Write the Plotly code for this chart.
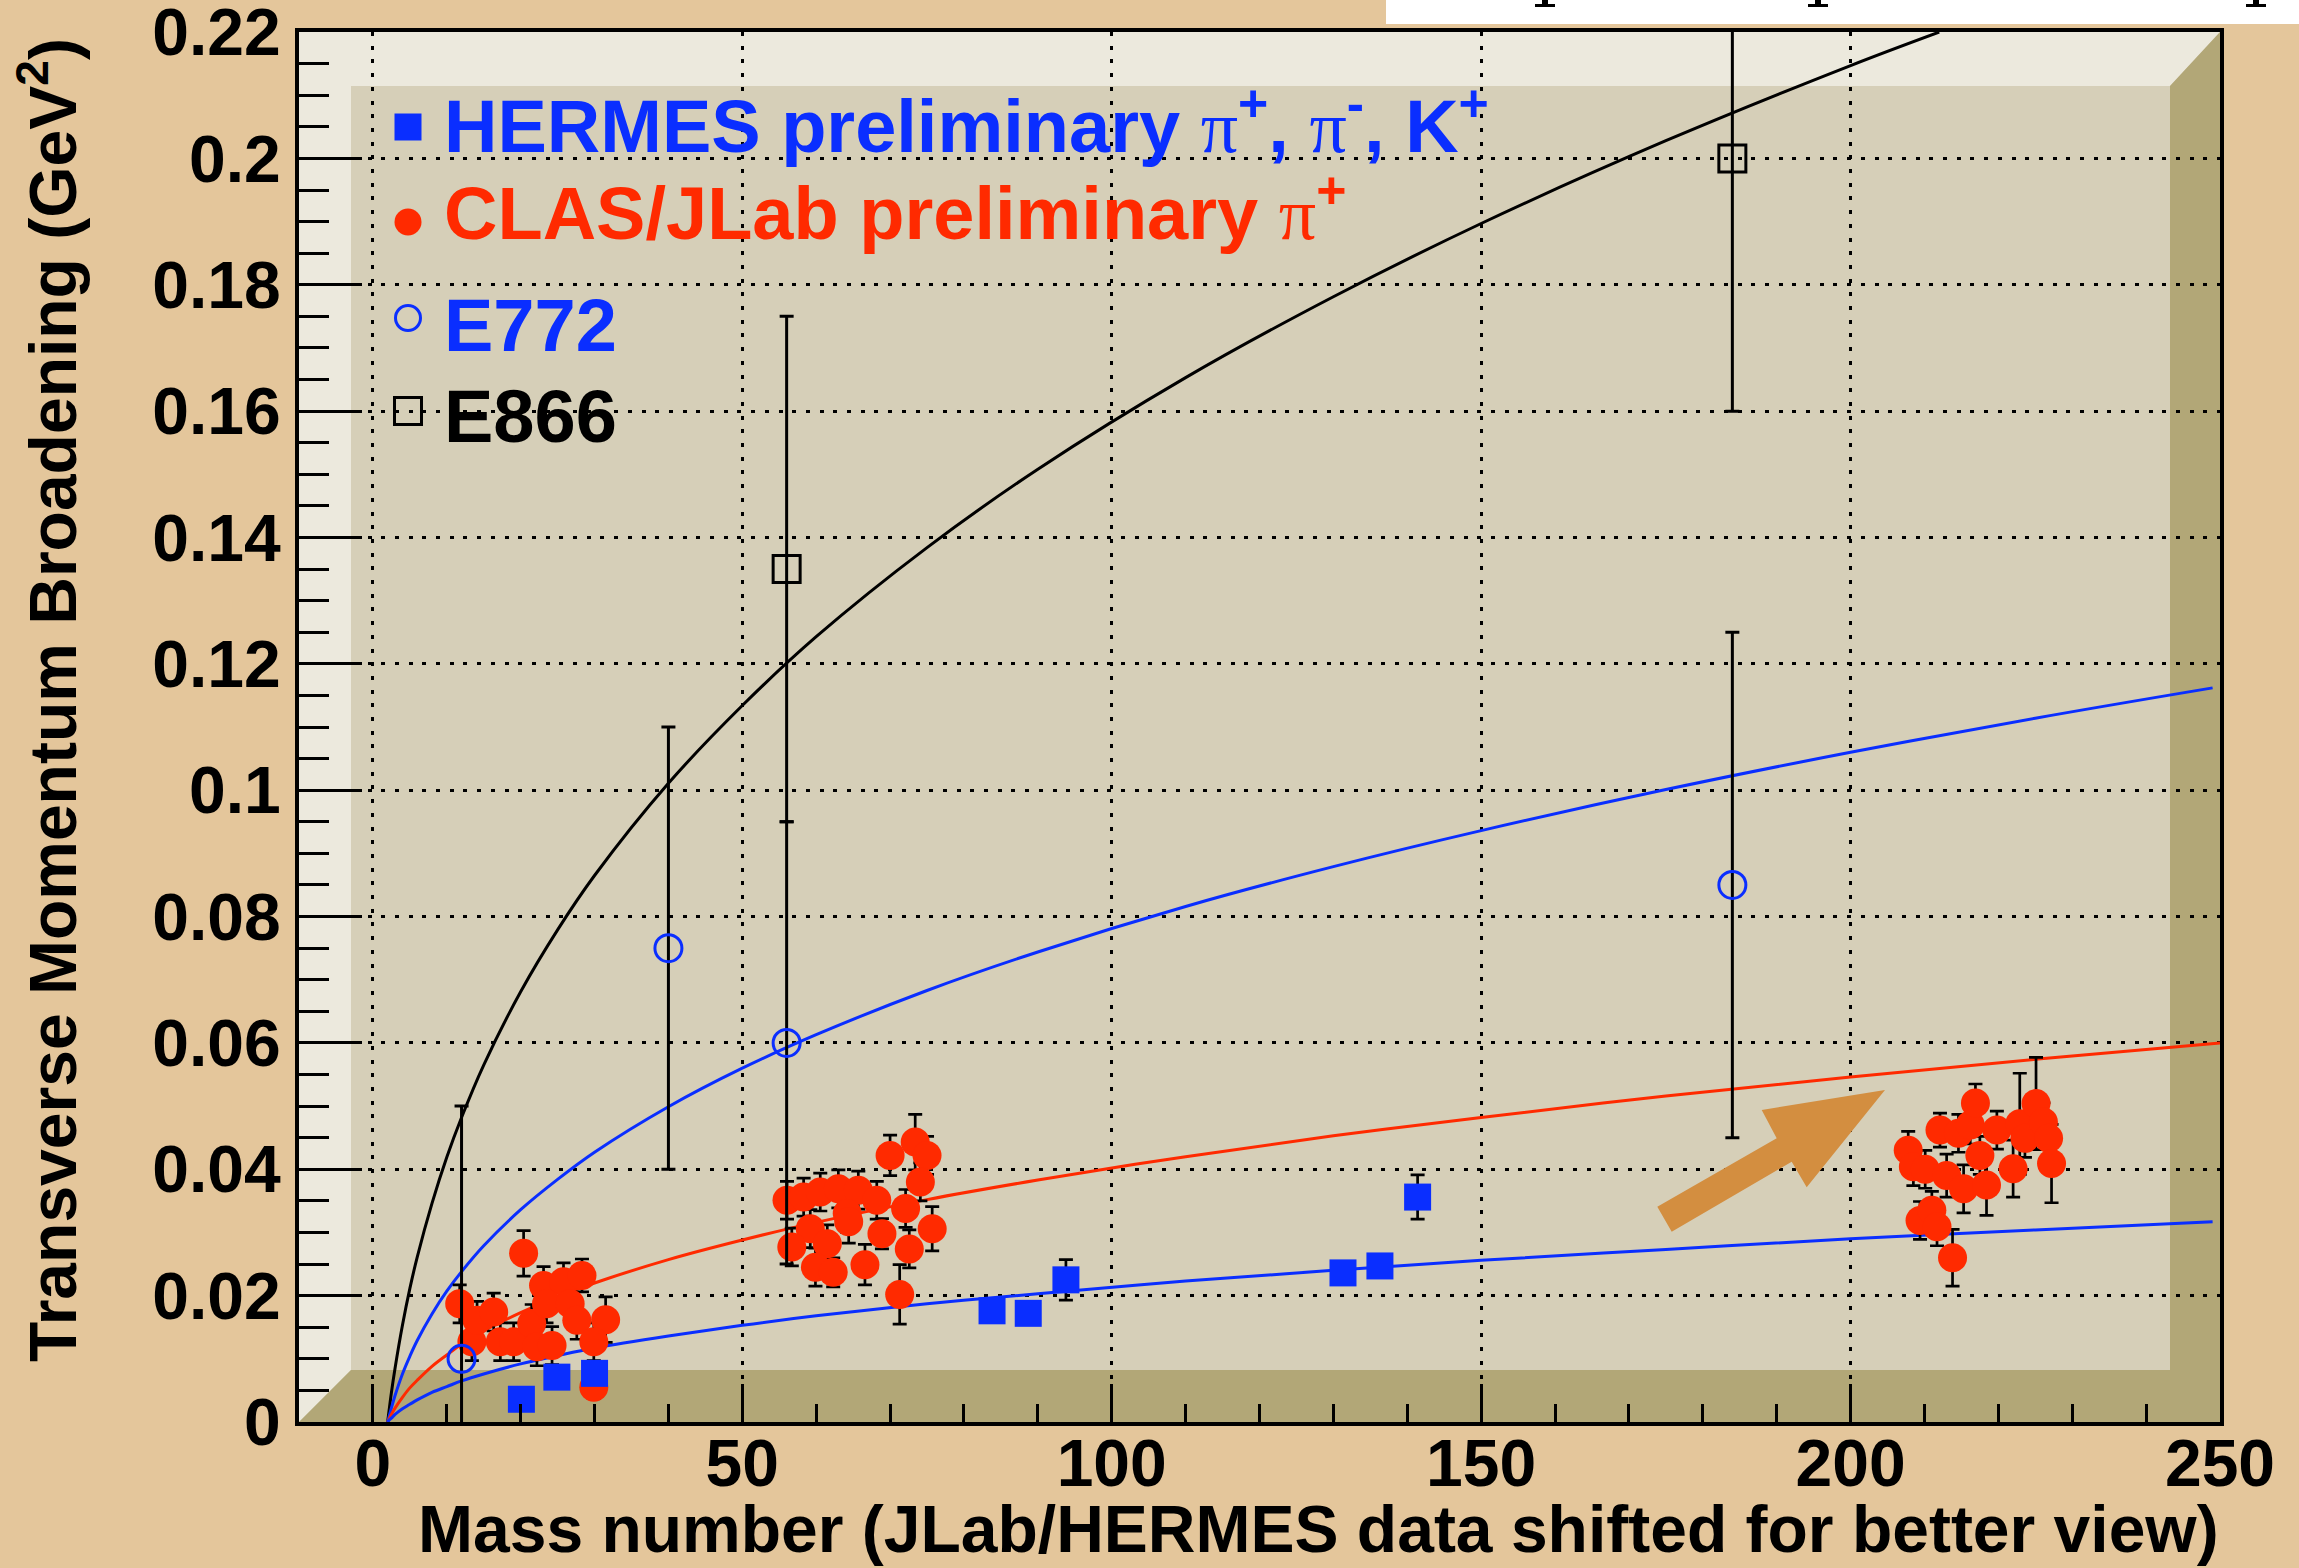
import plotly.graph_objects as go

# ---------------- data ----------------
# fitted curves (mass number A -> broadening)
black_A = [2, 2.2, 2.5, 3, 4, 5, 6, 8, 10, 12, 15, 20, 25, 30, 40, 50, 60, 75, 90, 110, 130, 150, 175, 200, 212]
black_val = [0, .0019, .0046, .0085, .0153, .0211, .0261, .0346, .0419, .0482, .0565, .0681, .0779, .0865,
             .1011, .1134, .1243, .1384, .1508, .1653, .1781, .1897, .2028, .2147, .2200]

fit_A = [2, 2.2, 2.5, 3, 4, 5, 6, 8, 10, 12, 15, 20, 25, 30, 40, 50, 60, 75, 90, 110, 130, 150, 175, 200, 225, 249]
blue_hi_val = [0, .0009, .0022, .0042, .0076, .0104, .0129, .0171, .0207, .0238, .0279, .0336, .0384, .0427,
               .0499, .0560, .0613, .0683, .0744, .0816, .0879, .0936, .1001, .1060, .1114, .1162]
blue_lo_val = [0, .0003, .0006, .0012, .0021, .0028, .0035, .0047, .0056, .0065, .0076, .0092, .0105, .0117,
               .0136, .0153, .0168, .0187, .0203, .0223, .0240, .0256, .0273, .0290, .0304, .0317]

red_A = [2, 2.2, 2.5, 3, 4, 5, 6, 8, 10, 12, 15, 20, 25, 30, 40, 50, 60, 75, 90, 110, 130, 150, 175, 200, 225, 250]
red_val = [0, .0005, .0012, .0022, .0039, .0054, .0066, .0088, .0106, .0123, .0144, .0173, .0198, .0220,
           .0257, .0288, .0316, .0352, .0383, .0420, .0453, .0482, .0516, .0546, .0574, .0600]

# CLAS/JLab preliminary pi+
clas_A = [20.4, 11.75, 13.4, 14.1, 16.35, 17.25, 19.05, 21.5, 22.2, 24.25, 23.1, 25.8, 28.3, 23.5, 26.7, 27.6,
          31.5, 29.9, 29.9,
          56.05, 58.3, 60.55, 63.0, 65.7, 68.2, 64.2, 64.4, 59.2, 56.7, 61.5, 59.9, 62.3, 66.6, 68.9, 70.0,
          73.4, 75.0, 74.1, 72.1, 75.7, 72.6, 71.3,
          207.8, 208.5, 210.1, 212.1, 214.6, 216.2, 216.9, 213.0, 215.3, 217.5, 218.4, 219.8, 222.0, 222.9,
          223.6, 225.1, 226.1, 226.8, 227.2, 209.4, 211.0, 211.7, 213.8]
clas_val = [0.0267, 0.0187, 0.0127, 0.0161, 0.0174, 0.0127, 0.0127, 0.0156, 0.0119, 0.0121, 0.0216, 0.0222,
            0.0232, 0.0187, 0.0187, 0.0161, 0.0162, 0.0127, 0.0055,
            0.0351, 0.0356, 0.0364, 0.0369, 0.0367, 0.0351, 0.0330, 0.0317, 0.0306, 0.0277, 0.0282, 0.0245,
            0.0237, 0.0249, 0.0298, 0.0422, 0.0443, 0.0422, 0.0380, 0.0338, 0.0306, 0.0274, 0.0202,
            0.0430, 0.0404, 0.0400, 0.0462, 0.0457, 0.0470, 0.0505, 0.0390, 0.0369, 0.0422, 0.0375, 0.0462,
            0.0401, 0.0472, 0.0449, 0.0504, 0.0475, 0.0449, 0.0409, 0.0319, 0.0335, 0.0309, 0.0260]
clas_err = [0.0036, 0.003, 0.003, 0.003, 0.003, 0.003, 0.003, 0.003, 0.003, 0.003, 0.003, 0.003,
            0.0026, 0.003, 0.003, 0.003, 0.0036, 0.003, 0.0018,
            0.003, 0.003, 0.003, 0.003, 0.003, 0.003, 0.003, 0.0034, 0.003, 0.003, 0.003, 0.003,
            0.0023, 0.0032, 0.0024, 0.0032, 0.0044, 0.003, 0.003, 0.003, 0.0035, 0.003, 0.0047,
            0.003, 0.003, 0.003, 0.0027, 0.003, 0.003, 0.003, 0.0034, 0.0038, 0.003, 0.0048, 0.003,
            0.0045, 0.008, 0.003, 0.0073, 0.003, 0.003, 0.0062, 0.003, 0.003, 0.003, 0.0045]

# HERMES preliminary pi+, pi-, K+
hermes_A = [20.1, 24.9, 30.0, 83.8, 88.7, 93.8, 131.3, 136.3, 141.4]
hermes_val = [0.0036, 0.0071, 0.0077, 0.0176, 0.0172, 0.0225, 0.0236, 0.0247, 0.0356]
hermes_err = [0.001, 0.001, 0.001, 0.001, 0.001, 0.0032, 0.001, 0.001, 0.0035]

# E772
e772_A = [12, 40, 56, 184]
e772_val = [0.010, 0.075, 0.060, 0.085]
e772_err = [0.040, 0.035, 0.035, 0.040]

# E866
e866_A = [56, 184]
e866_val = [0.135, 0.200]
e866_err = [0.040, 0.040]

x_tick_vals = [0, 50, 100, 150, 200, 250]
x_tick_text = ["0", "50", "100", "150", "200", "250"]
y_tick_vals = [0, 0.02, 0.04, 0.06, 0.08, 0.10, 0.12, 0.14, 0.16, 0.18, 0.20, 0.22]
y_tick_text = ["0", "0.02", "0.04", "0.06", "0.08", "0.1", "0.12", "0.14", "0.16", "0.18", "0.2", "0.22"]

legend_labels = [
    'HERMES preliminary <span style="font-family:Liberation Serif;font-weight:normal">π</span><sup>+</sup>, '
    '<span style="font-family:Liberation Serif;font-weight:normal">π</span><sup>-</sup>, K<sup>+</sup>',
    'CLAS/JLab preliminary <span style="font-family:Liberation Serif;font-weight:normal">π</span><sup>+</sup>',
    'E772',
    'E866',
]

# ---------------- style ----------------
RED = "#FF2A00"
BLUE = "#0A2EFF"
BLACK = "#000000"
ORANGE = "#D38E40"
PAPER = "#E4C69B"
PANEL = "#D6CFB8"
LIGHT = "#ECE9DD"
DARK = "#B2A777"
FONT = "Liberation Sans, Arial, Helvetica, sans-serif"

W, H = 2299, 1568
L, R, T, B = 299, 79, 32, 146
PW, PH = W - L - R, H - T - B


def px(xp):
    return (xp - L) / PW


def py(yp):
    return (H - B - yp) / PH


fig = go.Figure()

# curves
fig.add_trace(go.Scatter(x=black_A, y=black_val, mode="lines",
                         line=dict(color=BLACK, width=3, shape="spline"), hoverinfo="skip"))
fig.add_trace(go.Scatter(x=fit_A, y=blue_hi_val, mode="lines",
                         line=dict(color=BLUE, width=3, shape="spline"), hoverinfo="skip"))
fig.add_trace(go.Scatter(x=red_A, y=red_val, mode="lines",
                         line=dict(color=RED, width=3, shape="spline"), hoverinfo="skip"))
fig.add_trace(go.Scatter(x=fit_A, y=blue_lo_val, mode="lines",
                         line=dict(color=BLUE, width=3, shape="spline"), hoverinfo="skip"))

# points
fig.add_trace(go.Scatter(x=clas_A, y=clas_val, mode="markers",
                         marker=dict(symbol="circle", size=29, color=RED, line=dict(width=0)),
                         error_y=dict(type="data", array=clas_err, color=BLACK, thickness=2.7, width=7)))
fig.add_trace(go.Scatter(x=hermes_A, y=hermes_val, mode="markers",
                         marker=dict(symbol="square", size=27, color=BLUE, line=dict(width=0)),
                         error_y=dict(type="data", array=hermes_err, color=BLACK, thickness=2.7, width=7)))
fig.add_trace(go.Scatter(x=e772_A, y=e772_val, mode="markers",
                         marker=dict(symbol="circle-open", size=27, color=BLUE, line=dict(width=3, color=BLUE)),
                         error_y=dict(type="data", array=e772_err, color=BLACK, thickness=3, width=7)))
fig.add_trace(go.Scatter(x=e866_A, y=e866_val, mode="markers",
                         marker=dict(symbol="square-open", size=27, color=BLACK, line=dict(width=3, color=BLACK)),
                         error_y=dict(type="data", array=e866_err, color=BLACK, thickness=3, width=7)))

# ---------------- frame decoration (ROOT-like 3D box) ----------------
lx, rx = px(351), px(2170)
ty, by = py(86), py(1370)
shapes = [
    dict(type="path", xref="x domain", yref="y domain", layer="below",
         path=f"M0,0 L0,1 L1,1 L{rx},{ty} L{lx},{ty} L{lx},{by} Z",
         fillcolor=LIGHT, line=dict(width=0)),
    dict(type="path", xref="x domain", yref="y domain", layer="below",
         path=f"M0,0 L1,0 L1,1 L{rx},{ty} L{rx},{by} L{lx},{by} Z",
         fillcolor=DARK, line=dict(width=0)),
]

# orange arrow
arrow_pts = [(1671.7, 1231.7), (1657.3, 1206.7), (1776.7, 1138.3), (1761.7, 1110),
             (1885, 1090), (1806.7, 1187.3), (1791.7, 1161.7)]
path = "M" + " L".join(f"{px(a):.5f},{py(b):.5f}" for a, b in arrow_pts) + " Z"
shapes.append(dict(type="path", xref="paper", yref="paper", layer="above", path=path,
                   fillcolor=ORANGE, line=dict(width=0)))

# white box at the top right (part of the slide above)
shapes.append(dict(type="rect", xref="paper", yref="paper", layer="above",
                   x0=px(1386), x1=px(W + 5), y0=py(24), y1=py(-5),
                   fillcolor="white", line=dict(width=0)))
for cx in (1545, 1818, 2256):
    shapes.append(dict(type="rect", xref="paper", yref="paper", layer="above",
                       x0=px(cx - 3), x1=px(cx + 3), y0=py(5), y1=py(-2),
                       fillcolor="black", line=dict(width=0)))
    shapes.append(dict(type="rect", xref="paper", yref="paper", layer="above",
                       x0=px(cx - 10), x1=px(cx + 10), y0=py(7), y1=py(4),
                       fillcolor="black", line=dict(width=0)))

# legend markers
leg_x = px(408)
shapes += [
    dict(type="rect", xref="paper", yref="paper", layer="above", xsizemode="pixel", ysizemode="pixel",
         xanchor=leg_x, yanchor=py(127), x0=-13.5, x1=13.5, y0=-13.5, y1=13.5,
         fillcolor=BLUE, line=dict(width=0)),
    dict(type="circle", xref="paper", yref="paper", layer="above", xsizemode="pixel", ysizemode="pixel",
         xanchor=leg_x, yanchor=py(222), x0=-13.5, x1=13.5, y0=-13.5, y1=13.5,
         fillcolor=RED, line=dict(width=0)),
    dict(type="circle", xref="paper", yref="paper", layer="above", xsizemode="pixel", ysizemode="pixel",
         xanchor=leg_x, yanchor=py(318), x0=-12.5, x1=12.5, y0=-12.5, y1=12.5,
         fillcolor="rgba(0,0,0,0)", line=dict(width=3, color=BLUE)),
    dict(type="rect", xref="paper", yref="paper", layer="above", xsizemode="pixel", ysizemode="pixel",
         xanchor=leg_x, yanchor=py(411), x0=-13.5, x1=13.5, y0=-13.5, y1=13.5,
         fillcolor="rgba(0,0,0,0)", line=dict(width=3, color=BLACK)),
]

annotations = []
leg_colors = [BLUE, RED, BLUE, BLACK]
leg_bottoms = [170, 257, 369, 460]
for text, col, yb in zip(legend_labels, leg_colors, leg_bottoms):
    annotations.append(dict(xref="paper", yref="paper", x=px(442), y=py(yb), xanchor="left", yanchor="bottom",
                            text=text, showarrow=False,
                            font=dict(family=FONT, size=74, color=col, weight="bold")))

# axis titles
annotations.append(dict(xref="paper", yref="paper", x=px(2221), y=py(1568), xanchor="right", yanchor="bottom",
                        text="Mass number (JLab/HERMES data shifted for better view)", showarrow=False,
                        font=dict(family=FONT, size=66, color=BLACK, weight="bold")))
annotations.append(dict(xref="paper", yref="paper", x=px(92), y=py(36), xanchor="right", yanchor="top",
                        textangle=-90,
                        text="Transverse Momentum Broadening (GeV<sup>2</sup>)", showarrow=False,
                        font=dict(family=FONT, size=66, color=BLACK, weight="bold")))

fig.update_layout(
    width=W, height=H, autosize=False,
    margin=dict(l=L, r=R, t=T, b=B, pad=0, autoexpand=False),
    paper_bgcolor=PAPER, plot_bgcolor=PANEL,
    showlegend=False,
    font=dict(family=FONT, size=66, color=BLACK, weight="bold"),
    shapes=shapes, annotations=annotations,
)

axis_common = dict(showline=True, linewidth=4, linecolor=BLACK, mirror=True,
                   showgrid=True, gridcolor=BLACK, gridwidth=3, griddash="4px,9.7px",
                   zeroline=False, ticks="inside", tickwidth=3, tickcolor=BLACK,
                   ticklabeloverflow="allow", automargin=False,
                   tickfont=dict(family=FONT, size=66, color=BLACK, weight="bold"))

fig.update_xaxes(range=[-10, 250], tickmode="array", tickvals=x_tick_vals, ticktext=x_tick_text,
                 ticklen=38, ticklabelstandoff=-19,
                 minor=dict(tickmode="linear", tick0=0, dtick=10, ticks="inside", ticklen=18,
                            tickwidth=3, tickcolor=BLACK, showgrid=False),
                 **axis_common)
fig.update_yaxes(range=[0, 0.22001], tickmode="array", tickvals=y_tick_vals, ticktext=y_tick_text,
                 ticklen=63, ticklabelstandoff=1,
                 minor=dict(tickmode="linear", tick0=0, dtick=0.005, ticks="inside", ticklen=30,
                            tickwidth=3, tickcolor=BLACK, showgrid=False),
                 **axis_common)

fig.write_html("out.html")
